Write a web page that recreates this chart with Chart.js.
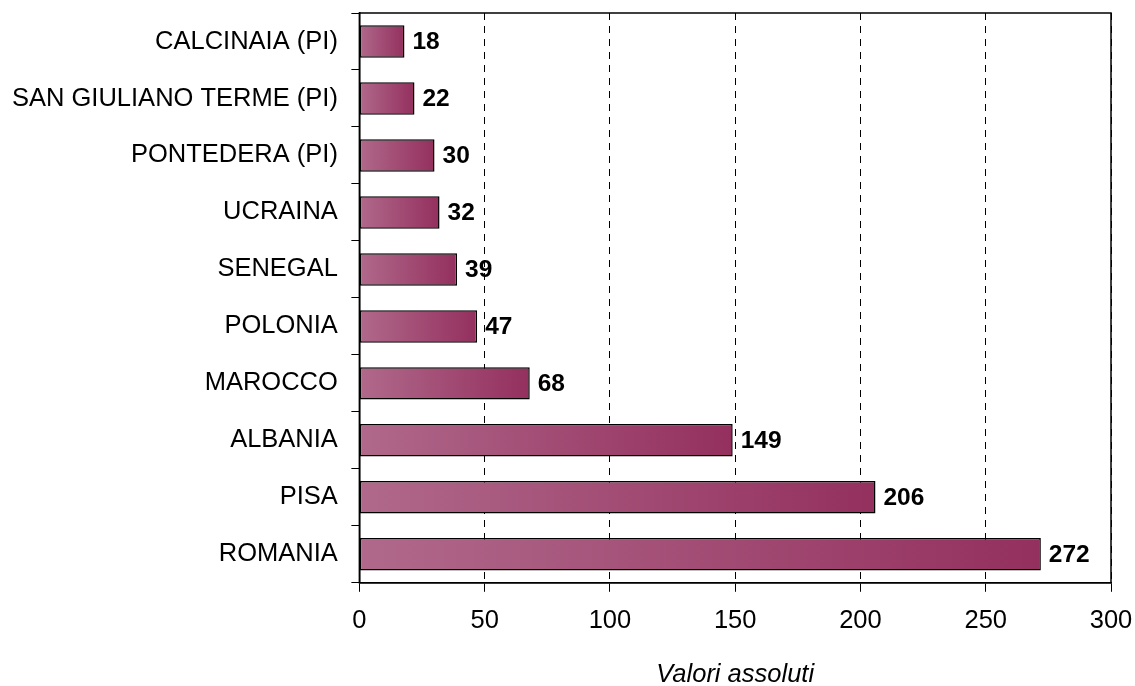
<!DOCTYPE html>
<html>
<head>
<meta charset="utf-8">
<script src="https://cdn.jsdelivr.net/npm/chart.js@4"></script>
<style>
    html, body { margin: 0; padding: 0; background: #fff; }
    #wrap { width: 1135px; height: 686px; position: relative; }
</style>
</head>
<body>
<div id="wrap"><canvas id="chart"></canvas></div>
<script>
// Chart data
const categories = [
    'CALCINAIA (PI)',
    'SAN GIULIANO TERME (PI)',
    'PONTEDERA (PI)',
    'UCRAINA',
    'SENEGAL',
    'POLONIA',
    'MAROCCO',
    'ALBANIA',
    'PISA',
    'ROMANIA'
];
const values = [18, 22, 30, 32, 39, 47, 68, 149, 206, 272];
const xTicks = [0, 50, 100, 150, 200, 250, 300];
const xTitle = 'Valori assoluti';

const FONT = '"Liberation Sans", Arial, sans-serif';

// Bar fill: light pink on the left, darker plum at the bar end
function barFill(c) {
    const chart = c.chart;
    if (!chart.chartArea || c.raw === undefined) return '#a04a76';
    const x = chart.scales.x;
    const x0 = x.getPixelForValue(0);
    const x1 = x.getPixelForValue(c.raw);
    const g = chart.ctx.createLinearGradient(x0, 0, x1, 0);
    g.addColorStop(0, '#b0698b');
    g.addColorStop(1, '#94305e');
    return g;
}

// Frame round the plot area
const framePlugin = {
    id: 'frame',
    afterDraw(chart) {
        const { ctx, chartArea: a } = chart;
        ctx.save();
        ctx.strokeStyle = '#000';
        ctx.lineWidth = 1.5;
        ctx.strokeRect(a.left, a.top, a.right - a.left, a.bottom - a.top);
        ctx.restore();
    }
};

// Value labels at the bar ends
const valueLabels = {
    id: 'valueLabels',
    afterDatasetsDraw(chart) {
        const { ctx } = chart;
        const meta = chart.getDatasetMeta(0);
        ctx.save();
        ctx.font = 'bold 24.5px ' + FONT;
        ctx.fillStyle = '#000';
        ctx.textAlign = 'left';
        ctx.textBaseline = 'middle';
        meta.data.forEach((bar, i) => {
            ctx.fillText(String(values[i]), bar.x + 8, bar.y + 1);
        });
        ctx.restore();
    }
};

new Chart(document.getElementById('chart'), {
    type: 'bar',
    data: {
        labels: categories,
        datasets: [{
            data: values,
            backgroundColor: barFill,
            borderColor: '#000',
            borderWidth: 1.5,
            borderSkipped: false,
            categoryPercentage: 1,
            barPercentage: 0.57
        }]
    },
    options: {
        indexAxis: 'y',
        responsive: true,
        maintainAspectRatio: false,
        animation: false,
        layout: {
            padding: { left: 1, right: 24, top: 13, bottom: 0 }
        },
        plugins: {
            legend: { display: false },
            tooltip: { enabled: false }
        },
        scales: {
            x: {
                min: 0,
                max: 300,
                afterBuildTicks: (axis) => {
                    axis.ticks = xTicks.map(v => ({ value: v }));
                },
                afterFit: (axis) => {
                    // let layout.padding decide the right edge
                    axis.paddingRight = 0;
                },
                grid: {
                    color: '#000',
                    lineWidth: 1,
                    tickLength: 9,
                    tickColor: '#000',
                    tickBorderDash: []
                },
                border: { display: true, color: '#000', width: 1.5, dash: [7, 6] },
                ticks: {
                    color: '#000',
                    padding: 14,
                    font: { family: FONT, size: 25.5 }
                },
                title: {
                    display: true,
                    text: xTitle,
                    color: '#000',
                    padding: { top: 9, bottom: -4 },
                    font: { family: FONT, size: 25.5, style: 'italic' }
                }
            },
            y: {
                afterFit: (axis) => {
                    axis.paddingTop = 0;
                    axis.width -= 2.5;
                },
                grid: {
                    offset: true,
                    drawOnChartArea: false,
                    color: '#000',
                    tickLength: 8
                },
                border: { display: true, color: '#000', width: 1.5 },
                ticks: {
                    color: '#000',
                    padding: 13.5,
                    font: { family: FONT, size: 25.5 }
                }
            }
        }
    },
    plugins: [framePlugin, valueLabels]
});
</script>
</body>
</html>
